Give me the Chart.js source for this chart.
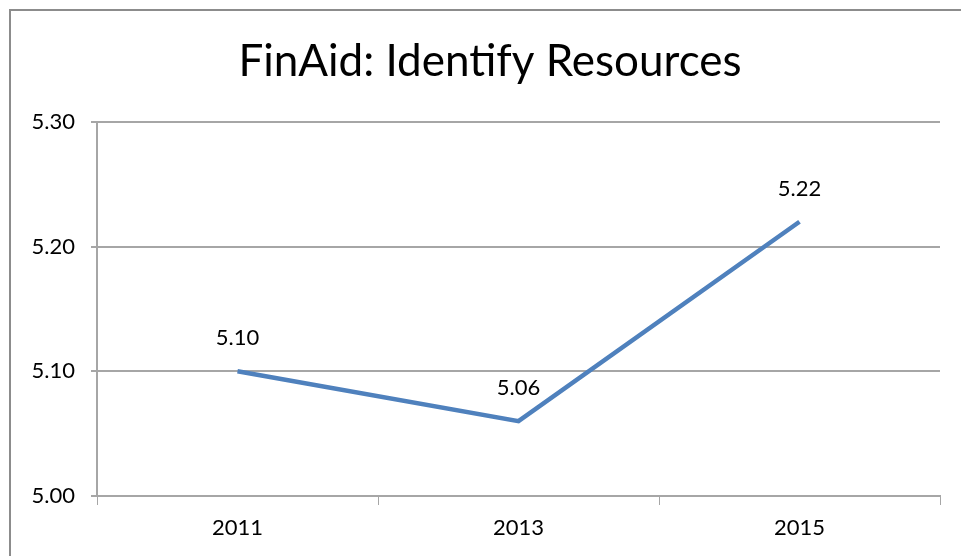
<!DOCTYPE html>
<html>
<head>
<meta charset="utf-8">
<script src="https://cdn.jsdelivr.net/npm/chart.js@4/dist/chart.umd.min.js"></script>
<style>
  html, body { margin: 0; padding: 0; background: #fff; }
  #wrap { width: 961px; height: 556px; }
</style>
</head>
<body>
<div id="wrap"><canvas id="chart" width="961" height="556"></canvas></div>
<script>
var years = ['2011', '2013', '2015'];
var scores = [5.10, 5.06, 5.22];
var yTicks = [5.00, 5.10, 5.20, 5.30];
var chartTitle = 'FinAid: Identify Resources';

var FONT = 'Lato, "Open Sans", sans-serif';
var GRID = '#a6a6a6';

// outer frame (only left + top edges show in the picture) and the title
var framePlugin = {
  id: 'frame',
  beforeDraw: function(chart) {
    var c = chart.ctx;
    c.save();
    c.strokeStyle = '#8c8c8c';
    c.lineWidth = 2;
    c.beginPath();
    c.moveTo(10, chart.height);
    c.lineTo(10, 10);
    c.lineTo(chart.width, 10);
    c.stroke();
    c.font = '44px ' + FONT;
    c.fillStyle = '#000';
    c.textAlign = 'center';
    c.textBaseline = 'middle';
    c.fillText(chartTitle, 490, 62);
    c.restore();
  }
};

// value labels above each point
var labelPlugin = {
  id: 'valueLabels',
  afterDatasetsDraw: function(chart) {
    var c = chart.ctx;
    var meta = chart.getDatasetMeta(0);
    c.save();
    c.font = '22px ' + FONT;
    c.fillStyle = '#000';
    c.textAlign = 'center';
    c.textBaseline = 'middle';
    meta.data.forEach(function(pt, i) {
      c.fillText(scores[i].toFixed(2), pt.x, pt.y - 33);
    });
    c.restore();
  }
};

new Chart(document.getElementById('chart'), {
  type: 'line',
  data: {
    labels: years,
    datasets: [{
      data: scores,
      borderColor: '#4f81bd',
      borderWidth: 4.5,
      pointRadius: 0,
      tension: 0,
      fill: false
    }]
  },
  options: {
    responsive: false,
    animation: false,
    layout: { padding: { left: 0, right: 21, top: 122, bottom: 0 } },
    plugins: {
      legend: { display: false },
      tooltip: { enabled: false },
      title: { display: false }
    },
    scales: {
      x: {
        offset: true,
        grid: {
          offset: true,
          drawOnChartArea: false,
          color: GRID,
          tickLength: 9,
          tickColor: GRID
        },
        border: { color: GRID, width: 2 },
        ticks: { color: '#000', font: { family: FONT, size: 22 }, padding: 10 },
        afterFit: function(scale) { scale.height = 60; }
      },
      y: {
        min: 5.00,
        max: 5.30,
        afterBuildTicks: function(scale) {
          scale.ticks = yTicks.map(function(v) { return { value: v }; });
        },
        grid: { color: GRID, lineWidth: 2, tickLength: 6 },
        border: { color: GRID, width: 2 },
        ticks: {
          color: '#000',
          font: { family: FONT, size: 22 },
          padding: 16,
          callback: function(v) { return Number(v).toFixed(2); }
        },
        afterFit: function(scale) { scale.width = 97; }
      }
    }
  },
  plugins: [framePlugin, labelPlugin]
});
</script>
</body>
</html>
